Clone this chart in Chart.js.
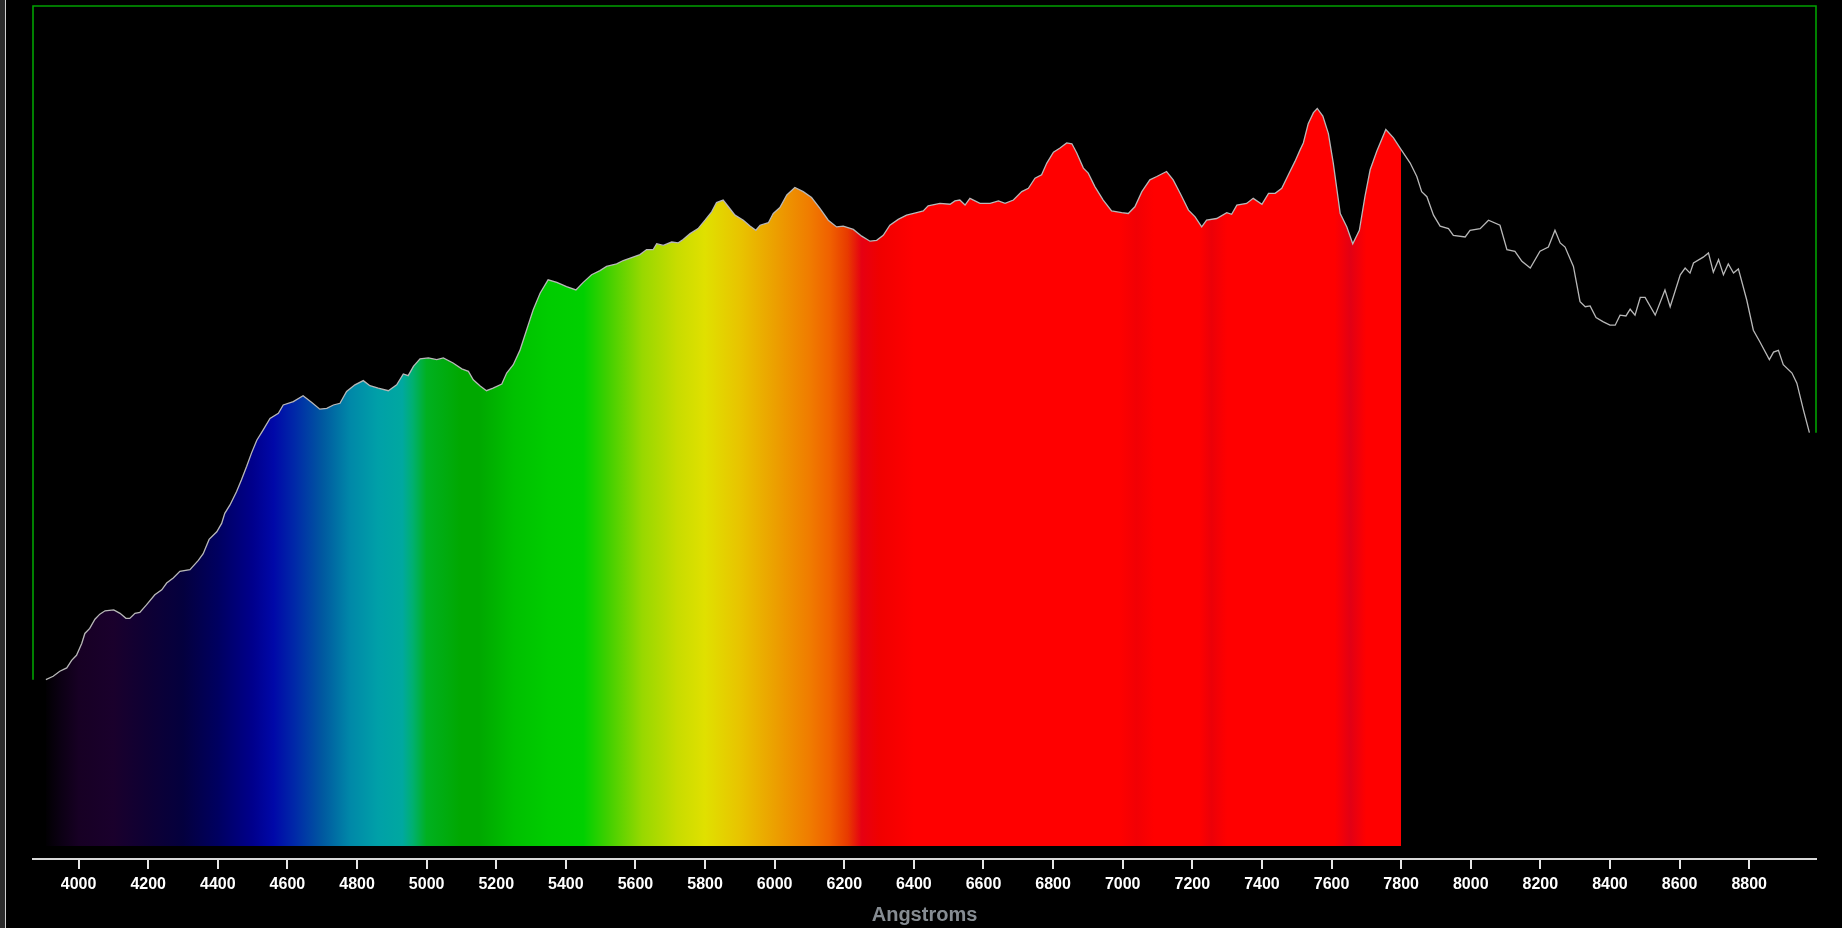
<!DOCTYPE html>
<html>
<head>
<meta charset="utf-8">
<title>Spectrum</title>
<script src="https://cdn.jsdelivr.net/npm/chart.js@4.4.1/dist/chart.umd.min.js"></script>
<style>
  html, body { margin: 0; padding: 0; background: #000; overflow: hidden; }
  #wrap { position: relative; width: 1842px; height: 928px; }
  #spectrum { position: absolute; left: 0; top: 0; }
  #edge { position: absolute; left: 0; top: 0; width: 5px; height: 928px; background: #2b2b2b; border-right: 1px solid #cfcfcf; }
</style>
</head>
<body>
<div id="wrap">
  <canvas id="spectrum" width="1842" height="928"></canvas>
  <div id="edge"></div>
</div>
<script>
// wavelengths in Angstroms
const wavelengths = [
    3906, 3927, 3946, 3966, 3980, 3994, 4009, 4018, 4032, 4047,
    4061, 4076, 4101, 4119, 4136, 4147, 4162, 4176, 4195, 4219,
    4239, 4253, 4272, 4291, 4320, 4344, 4358, 4375, 4397, 4411,
    4420, 4435, 4454, 4468, 4483, 4497, 4512, 4530, 4550, 4574,
    4588, 4617, 4645, 4670, 4693, 4713, 4732, 4751,
    4770, 4794, 4818, 4837, 4861, 4890, 4914, 4933, 4947, 4962,
    4981, 5005, 5029, 5048, 5076, 5101, 5120, 5134, 5153, 5172,
    5191, 5216, 5230, 5249, 5268, 5287, 5306, 5326, 5349, 5374,
    5402, 5429, 5450, 5474, 5498, 5517, 5546, 5565,
    5613, 5632, 5651, 5661, 5680, 5704, 5723, 5737, 5757, 5780,
    5800, 5819, 5833, 5852, 5867, 5886, 5910, 5929, 5946, 5958,
    5982, 5996, 6015, 6035, 6058, 6082, 6106, 6130, 6154, 6178,
    6197, 6226, 6250, 6274, 6293, 6312, 6331, 6355, 6379, 6408,
    6427, 6441, 6475,
    6504, 6518, 6532, 6547, 6561, 6590, 6619, 6643, 6662, 6686,
    6710, 6729, 6748, 6767, 6782, 6801, 6820, 6839, 6854, 6868,
    6887, 6901, 6920, 6944, 6968, 6997, 7016, 7035, 7055, 7078,
    7098, 7126, 7145, 7165, 7189, 7208, 7227, 7241, 7270, 7299,
    7313, 7328,
    7356, 7375, 7400, 7419, 7438, 7457, 7476, 7495, 7510, 7519,
    7533, 7548, 7559, 7575, 7591, 7605, 7625, 7644, 7661, 7680,
    7696, 7711, 7730, 7756, 7778, 7800, 7826, 7845, 7859, 7874,
    7893, 7912, 7936, 7950, 7984, 7998, 8027, 8051, 8084, 8104,
    8127, 8147, 8171, 8199,
    8223, 8242, 8257, 8271, 8295, 8314, 8329, 8343, 8360, 8381,
    8400, 8415, 8429, 8446, 8458, 8472, 8487, 8501, 8530, 8558,
    8573, 8602, 8616, 8630, 8640, 8668, 8683, 8697, 8712, 8726,
    8740, 8755, 8769, 8793, 8812, 8831, 8858, 8870, 8884, 8898,
    8923, 8937, 8956, 8973
];

// relative intensity (1.0 = top of the plot frame)
const intensity = [
    0.198, 0.202, 0.208, 0.212, 0.221, 0.227, 0.241, 0.253, 0.259, 0.270,
    0.276, 0.280, 0.281, 0.277, 0.271, 0.271, 0.277, 0.278, 0.287, 0.299,
    0.305, 0.313, 0.319, 0.327, 0.329, 0.340, 0.348, 0.365, 0.374, 0.384,
    0.396, 0.406, 0.422, 0.436, 0.452, 0.468, 0.483, 0.495, 0.509, 0.515,
    0.525, 0.529, 0.536, 0.528, 0.520, 0.521, 0.525, 0.527,
    0.541, 0.549, 0.554, 0.548, 0.545, 0.542, 0.549, 0.562, 0.560, 0.571,
    0.580, 0.581, 0.579, 0.581, 0.575, 0.568, 0.565, 0.555, 0.548, 0.542,
    0.545, 0.550, 0.563, 0.573, 0.590, 0.614, 0.638, 0.658, 0.674, 0.671,
    0.666, 0.662, 0.671, 0.680, 0.685, 0.690, 0.693, 0.697,
    0.704, 0.710, 0.710, 0.717, 0.715, 0.719, 0.718, 0.722, 0.729, 0.735,
    0.745, 0.755, 0.766, 0.769, 0.761, 0.751, 0.745, 0.738, 0.733, 0.739,
    0.742, 0.753, 0.760, 0.775, 0.784, 0.779, 0.772, 0.759, 0.745, 0.737,
    0.738, 0.734, 0.726, 0.720, 0.721, 0.727, 0.739, 0.746, 0.751, 0.754,
    0.756, 0.762, 0.765,
    0.764, 0.768, 0.769, 0.763, 0.771, 0.765, 0.765, 0.768, 0.765, 0.769,
    0.779, 0.783, 0.795, 0.799, 0.813, 0.826, 0.831, 0.837, 0.836, 0.825,
    0.807, 0.801, 0.785, 0.769, 0.756, 0.754, 0.753, 0.761, 0.779, 0.793,
    0.797, 0.803, 0.793, 0.777, 0.757, 0.749, 0.737, 0.745, 0.747, 0.754,
    0.752, 0.763,
    0.765, 0.771, 0.764, 0.777, 0.777, 0.783, 0.799, 0.815, 0.829, 0.837,
    0.860, 0.873, 0.878, 0.869, 0.848, 0.813, 0.753, 0.737, 0.717, 0.733,
    0.773, 0.805, 0.827, 0.853, 0.843, 0.829, 0.813, 0.797, 0.779, 0.773,
    0.751, 0.738, 0.735, 0.727, 0.725, 0.733, 0.735, 0.745, 0.739, 0.710,
    0.708, 0.696, 0.688, 0.708,
    0.713, 0.733, 0.718, 0.713, 0.690, 0.648, 0.642, 0.643, 0.629, 0.624,
    0.620, 0.620, 0.632, 0.631, 0.639, 0.632, 0.653, 0.653, 0.632, 0.662,
    0.642, 0.680, 0.688, 0.682, 0.694, 0.701, 0.706, 0.683, 0.698, 0.680,
    0.693, 0.682, 0.687, 0.650, 0.614, 0.600, 0.579, 0.588, 0.590, 0.573,
    0.563, 0.551, 0.519, 0.492
];

// x axis tick labels
const tickValues = [4000, 4200, 4400, 4600, 4800, 5000, 5200, 5400, 5600, 5800, 6000, 6200,
    6400, 6600, 6800, 7000, 7200, 7400, 7600, 7800, 8000, 8200, 8400, 8600, 8800];

// colour of the visible band, by wavelength
const stopWavelengths = [3900, 3950, 4000, 4100, 4200, 4300, 4400, 4500, 4560, 4620,
    4700, 4780, 4860, 4930, 4960, 5000, 5100, 5150, 5250, 5350,
    5450, 5520, 5620, 5720, 5800, 5900, 6000, 6100, 6160, 6210,
    6250, 6300, 6400, 6990, 7040, 7090, 7220, 7255, 7300, 7610,
    7655, 7700, 7800];
const stopColors = ['#000000', '#0c0014', '#170024', '#1a002c', '#0e0034', '#04003e', '#000060', '#00008c', '#0008a8', '#0028a8',
    '#0058a0', '#0088a8', '#00a0a8', '#00a8a0', '#00b070', '#00b020', '#00a800', '#00a800', '#00c000', '#00cc00',
    '#00d000', '#40d000', '#98d800', '#c8dc00', '#e0e000', '#e8c400', '#eca000', '#f07c00', '#f06000', '#e83a00',
    '#e60012', '#f00000', '#ff0000', '#ff0000', '#f20004', '#ff0000', '#ff0000', '#ec0008', '#ff0000', '#ff0000',
    '#e20014', '#ff0000', '#ff0000'];

const X_MIN = 3869;
const X_MAX = 8992;
const Y_MIN = -0.0155;
const Y_MAX = 1.0;
const FILL_END = 7800;

const points = wavelengths.map((w, i) => ({ x: w, y: intensity[i] }));
const visiblePoints = points.filter((p) => p.x <= FILL_END);

// green frame: drops from the top to the first and last readings
const framePoints = [
    { x: X_MIN, y: intensity[0] },
    { x: X_MIN, y: Y_MAX },
    { x: X_MAX, y: Y_MAX },
    { x: X_MAX, y: intensity[intensity.length - 1] },
];

function spectrumGradient(context) {
    const chart = context.chart;
    if (!chart.chartArea) return null;
    const xs = chart.scales.x;
    const x0 = xs.getPixelForValue(stopWavelengths[0]);
    const x1 = xs.getPixelForValue(stopWavelengths[stopWavelengths.length - 1]);
    const g = chart.ctx.createLinearGradient(x0, 0, x1, 0);
    stopWavelengths.forEach((w, i) => {
        g.addColorStop((xs.getPixelForValue(w) - x0) / (x1 - x0), stopColors[i]);
    });
    return g;
}

const ctx = document.getElementById('spectrum').getContext('2d');
new Chart(ctx, {
    type: 'line',
    data: {
        datasets: [{
            data: points,
            borderColor: '#b8b8b8',
            borderWidth: 1.3,
            fill: false,
            order: 0,
        }, {
            data: visiblePoints,
            borderWidth: 0,
            borderColor: 'rgba(0,0,0,0)',
            backgroundColor: spectrumGradient,
            fill: 'origin',
            order: 1,
        }, {
            data: framePoints,
            borderColor: '#00a000',
            borderWidth: 1.6,
            fill: false,
            clip: 4,
            order: 2,
        }],
    },
    options: {
        responsive: false,
        animation: false,
        layout: { padding: { left: 33, right: 26, top: 6, bottom: 0 } },
        plugins: {
            legend: { display: false },
            tooltip: { enabled: false },
        },
        elements: {
            point: { radius: 0 },
            line: { tension: 0 },
        },
        scales: {
            x: {
                type: 'linear',
                min: X_MIN,
                max: X_MAX,
                afterBuildTicks: (axis) => {
                    axis.ticks = tickValues.map((v) => ({ value: v }));
                },
                afterFit: (axis) => {
                    axis.height = 69;
                },
                border: { display: true, color: '#d9d9d9', width: 2 },
                grid: { drawOnChartArea: false, drawTicks: true, tickLength: 10, color: '#e6e6e6', lineWidth: 2 },
                ticks: {
                    color: '#ffffff',
                    font: { family: 'Liberation Sans', size: 16, weight: 'bold' },
                    padding: 6,
                    maxRotation: 0,
                    autoSkip: false,
                    callback: (v) => String(v),
                },
                title: {
                    display: true,
                    text: 'Angstroms',
                    color: '#868c92',
                    font: { family: 'Liberation Sans', size: 20, weight: 'bold' },
                    padding: { top: 0, bottom: 1 },
                },
            },
            y: {
                display: false,
                min: Y_MIN,
                max: Y_MAX,
            },
        },
    },
});
</script>
</body>
</html>
